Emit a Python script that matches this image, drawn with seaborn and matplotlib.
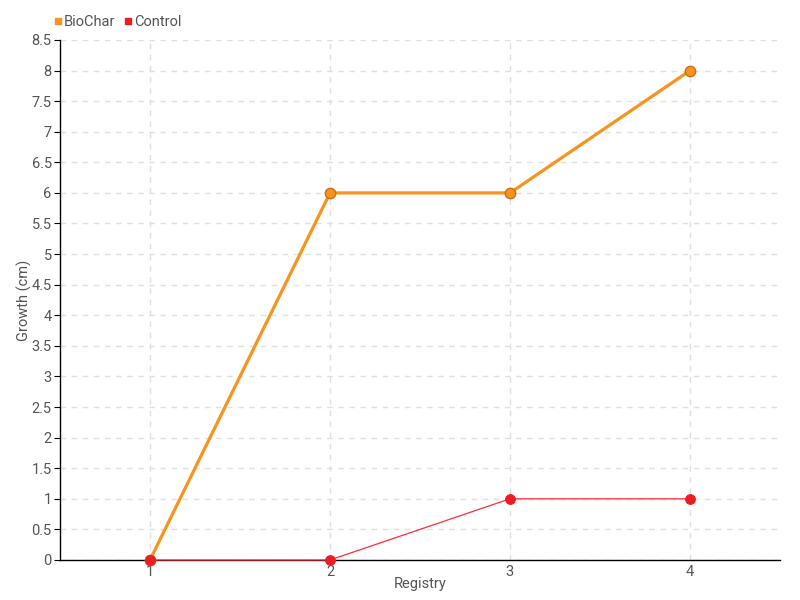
import pandas as pd
import matplotlib
matplotlib.use("Agg")
import matplotlib.pyplot as plt
import seaborn as sns
from matplotlib.lines import Line2D

registry = [1, 2, 3, 4]
biochar = [0, 6, 6, 8]
control = [0, 0, 1, 1]

df = pd.DataFrame({"Registry": registry * 2,
                   "Growth": biochar + control,
                   "Group": ["BioChar"] * 4 + ["Control"] * 4})

sns.set_style("white")
plt.rcParams['font.family'] = ['Roboto', 'DejaVu Sans']

fig = plt.figure(figsize=(8, 6), dpi=100)
ax = fig.add_axes([0.075, 0.0667, 0.9, 0.8667])

orange = "#f7941d"
red = "#ed1c24"

sns.lineplot(data=df[df.Group == "BioChar"], x="Registry", y="Growth", ax=ax,
             color=orange, linewidth=2.3, marker="o", markersize=7.5,
             markeredgecolor="#c8701a", markeredgewidth=1.0, legend=False,
             zorder=4, clip_on=False)
sns.lineplot(data=df[df.Group == "Control"], x="Registry", y="Growth", ax=ax,
             color="#ff2a3a", linewidth=0.9, marker="o", markersize=7,
             markerfacecolor=red, markeredgecolor=red, legend=False,
             zorder=5, clip_on=False)

ax.set_xlim(0.5, 4.5)
ax.set_ylim(0, 8.5)
ax.set_xticks(registry)
yt = [i * 0.5 for i in range(18)]
ax.set_yticks(yt)
ax.set_yticklabels([f"{v:g}" for v in yt])
ax.grid(True, color="#e0e0e0", linestyle=(0, (4, 4)), linewidth=1)
for s in ["top", "right"]:
    ax.spines[s].set_visible(False)
for s in ["left", "bottom"]:
    ax.spines[s].set_color("black")
    ax.spines[s].set_linewidth(1)
    ax.spines[s].set_zorder(1)
ax.tick_params(axis="y", left=True, length=4, color="black", labelsize=10.5, labelcolor="#555555", pad=2)
ax.tick_params(axis="x", bottom=False, labelsize=10.5, labelcolor="#555555", pad=0)
ax.set_xlabel("Registry", fontsize=10.5, color="#555555", labelpad=-1)
ax.set_ylabel("Growth (cm)", fontsize=10.5, color="#555555", labelpad=0)

handles = [Line2D([], [], marker="s", linestyle="", color=orange, markersize=4.5),
           Line2D([], [], marker="s", linestyle="", color=red, markersize=4.5)]
fig.legend(handles, ["BioChar", "Control"], loc="upper left", bbox_to_anchor=(0.05, 0.997),
           ncol=2, frameon=False, fontsize=10.5, handletextpad=0.05, columnspacing=0.5,
           labelcolor="#555555", handlelength=0.7)

fig.savefig("out.png", dpi=100)
